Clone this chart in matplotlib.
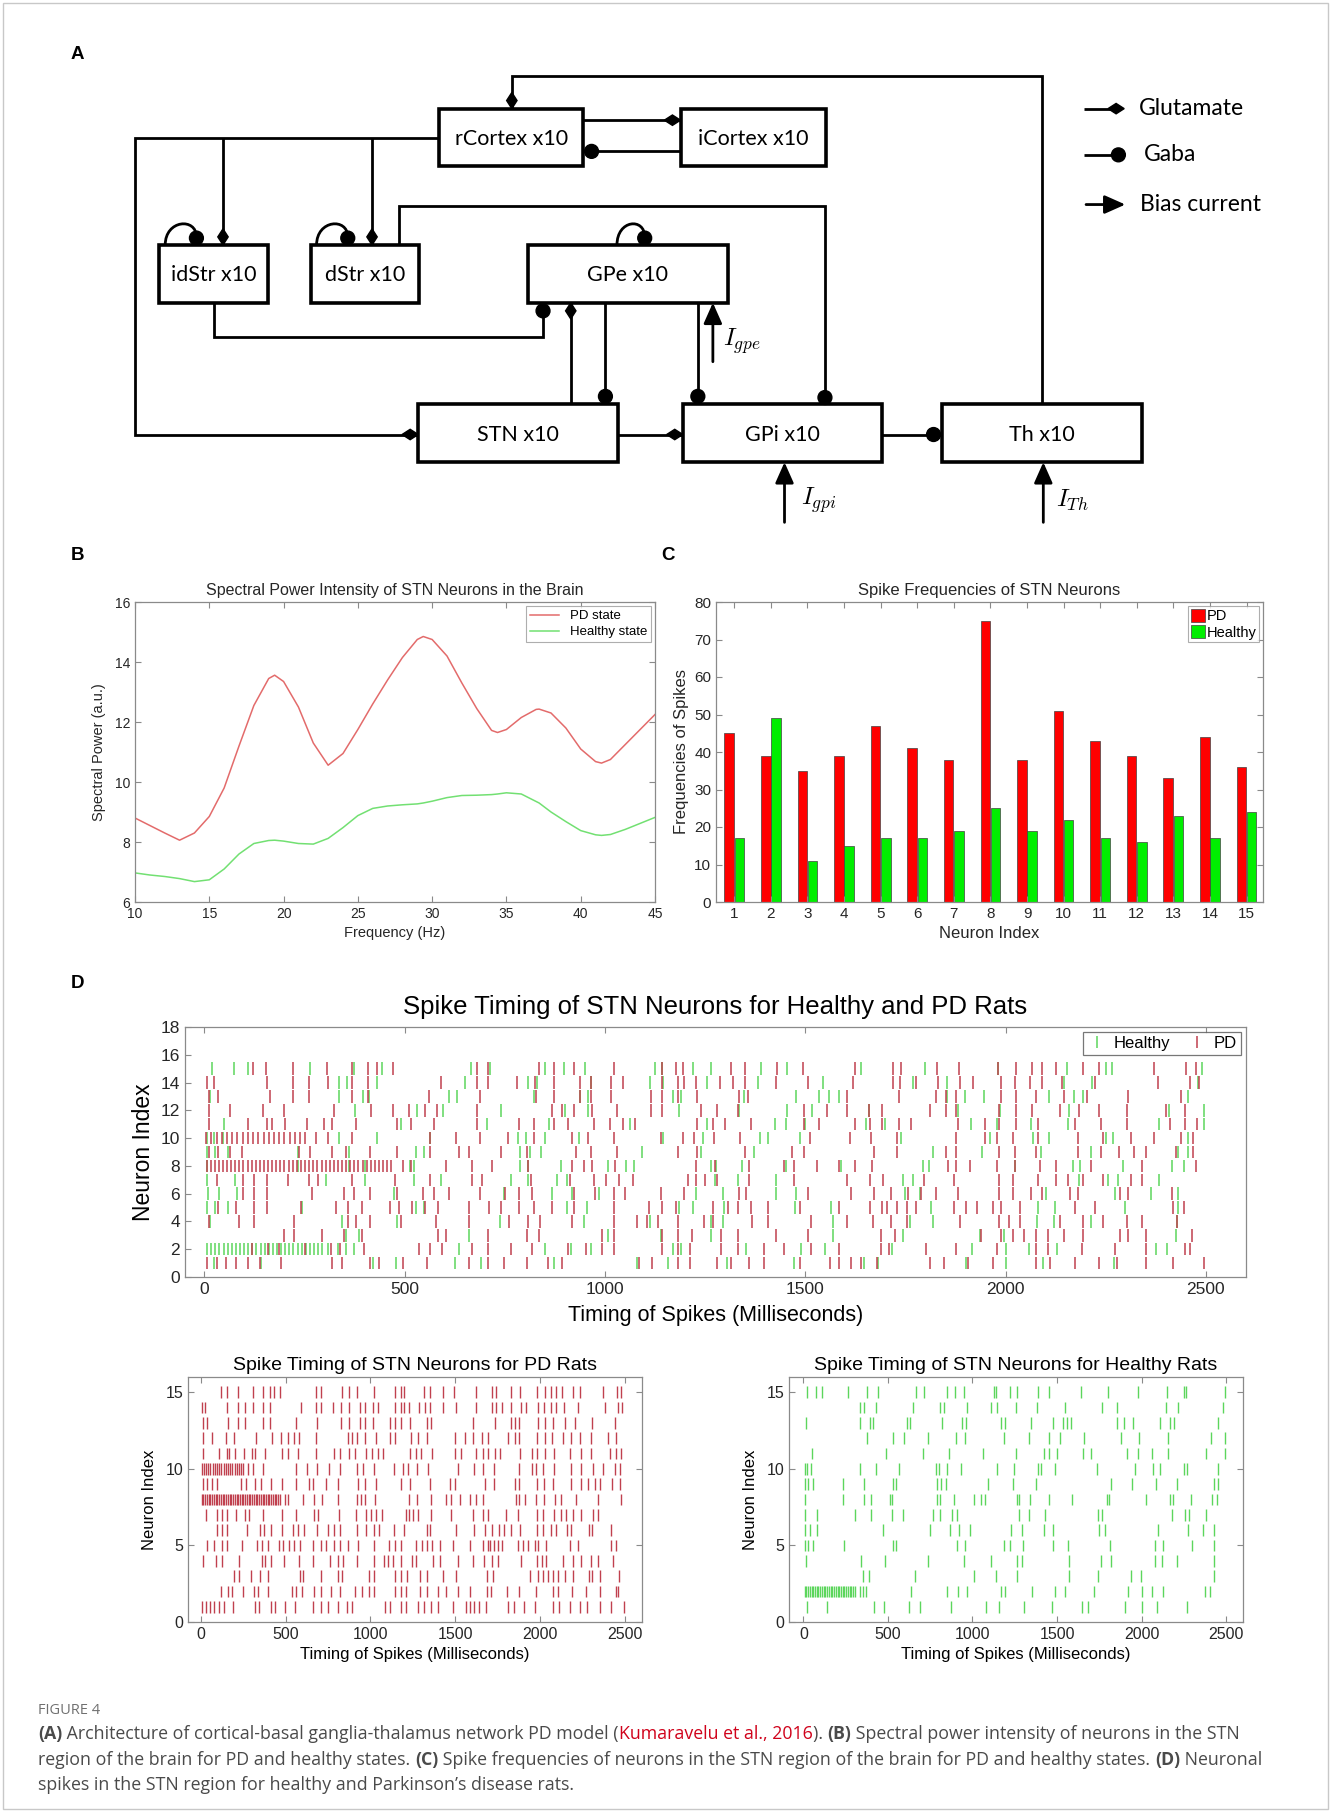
import matplotlib
matplotlib.use('Agg')
import matplotlib.pyplot as plt
from matplotlib.patches import Rectangle, Circle, Polygon, PathPatch
from matplotlib.path import Path
from matplotlib.lines import Line2D

plt.rcParams['font.family'] = ['Liberation Sans', 'DejaVu Sans']
plt.rcParams['mathtext.fontset'] = 'cm'

# ---------------- data ----------------
# B: spectral power
b_freq = [10, 11, 12, 13, 14, 15, 16, 17, 18, 19, 19.4, 20, 21, 22, 23, 24, 25, 26, 27, 28,
          29, 29.4, 30, 31, 32, 33, 34, 34.4, 35, 36, 37, 37.2, 38, 39, 40, 41, 41.4, 42, 43, 44, 45]
b_pd = [8.8, 8.55, 8.3, 8.06, 8.3, 8.85, 9.8, 11.2, 12.55, 13.45, 13.56, 13.35, 12.5, 11.3, 10.56,
        10.95, 11.75, 12.6, 13.4, 14.15, 14.75, 14.85, 14.75, 14.2, 13.3, 12.45, 11.72, 11.65, 11.75,
        12.15, 12.42, 12.43, 12.3, 11.8, 11.1, 10.68, 10.63, 10.75, 11.25, 11.75, 12.25]
b_healthy = [6.97, 6.9, 6.85, 6.78, 6.68, 6.74, 7.1, 7.6, 7.95, 8.05, 8.06, 8.03, 7.95, 7.93, 8.12,
             8.48, 8.88, 9.12, 9.2, 9.24, 9.27, 9.3, 9.36, 9.48, 9.55, 9.56, 9.58, 9.6, 9.64, 9.6,
             9.35, 9.3, 9.0, 8.68, 8.38, 8.24, 8.22, 8.25, 8.42, 8.62, 8.82]

# C: spike frequencies
neuron_idx = list(range(1, 16))
freq_pd = [45, 39, 35, 39, 47, 41, 38, 75, 38, 51, 43, 39, 33, 44, 36]
freq_healthy = [17, 49, 11, 15, 17, 17, 19, 25, 19, 22, 17, 16, 23, 17, 24]

# D: spike times (ms) per neuron, PD
pd_1 = [6, 31, 55, 80, 108, 139, 192, 320, 343, 414, 437, 496, 555, 662, 708, 747, 806, 859, 894, 1084, 1118,
        1182, 1212, 1280, 1314, 1359, 1398, 1486, 1561, 1584, 1613, 1639, 1678, 1812, 1847, 1906, 1969, 2076,
        2110, 2174, 2233, 2278, 2351, 2419, 2494]
pd_2 = [118, 159, 186, 251, 316, 339, 398, 535, 564, 594, 668, 708, 766, 819, 908, 953, 992, 1022, 1143, 1182,
        1212, 1290, 1333, 1398, 1447, 1515, 1584, 1688, 1710, 1802, 1877, 1978, 2076, 2106, 2190, 2272, 2351,
        2449, 2459]
pd_3 = [198, 225, 294, 349, 394, 584, 604, 708, 806, 835, 992, 1022, 1143, 1182, 1218, 1290, 1333, 1427, 1506,
        1688, 1724, 1939, 1988, 2018, 2047, 2076, 2106, 2145, 2194, 2286, 2306, 2351, 2465]
pd_4 = [12, 88, 123, 225, 359, 378, 414, 492, 578, 662, 761, 809, 839, 918, 1022, 1080, 1104, 1133, 1182, 1247,
        1270, 1368, 1408, 1515, 1604, 1668, 1714, 1753, 1886, 1984, 2008, 2037, 2135, 2194, 2243, 2302, 2341,
        2429]
pd_5 = [35, 80, 123, 157, 241, 329, 359, 394, 463, 486, 519, 551, 584, 662, 711, 741, 786, 823, 869, 924, 1022,
        1110, 1143, 1178, 1270, 1306, 1333, 1365, 1408, 1486, 1584, 1662, 1692, 1704, 1729, 1753, 1776, 1871,
        1900, 1929, 1969, 1988, 2037, 2174, 2223, 2419, 2445]
pd_6 = [98, 123, 157, 270, 349, 374, 414, 480, 545, 574, 610, 688, 751, 786, 819, 922, 976, 1022, 1051, 1139,
        1198, 1335, 1353, 1506, 1613, 1672, 1714, 1757, 1788, 1827, 1880, 1984, 2018, 2063, 2092, 2161, 2180,
        2286, 2306, 2416]
pd_7 = [31, 98, 123, 157, 208, 261, 284, 368, 476, 564, 668, 692, 815, 914, 973, 1002, 1035, 1071, 1208, 1227,
        1251, 1280, 1359, 1472, 1604, 1662, 1694, 1796, 1871, 1984, 2018, 2082, 2125, 2155, 2194, 2243, 2312,
        2341]
pd_8 = [6, 16, 26, 36, 47, 57, 67, 77, 88, 98, 108, 118, 129, 139, 149, 159, 170, 180, 190, 200, 211, 221, 231,
        241, 252, 262, 272, 282, 293, 303, 313, 323, 334, 344, 354, 364, 375, 385, 395, 405, 416, 426, 436, 446,
        457, 467, 496, 516, 604, 668, 717, 809, 918, 947, 967, 1025, 1227, 1274, 1359, 1447, 1472, 1529, 1584,
        1623, 1666, 1857, 1877, 1910, 1978, 2023, 2086, 2125, 2214, 2341, 2474]
pd_9 = [12, 35, 65, 94, 237, 265, 320, 355, 414, 480, 564, 637, 662, 741, 806, 927, 966, 1031, 1182, 1231, 1349,
        1466, 1496, 1672, 1729, 1851, 1877, 1984, 2023, 2076, 2180, 2239, 2282, 2321, 2351, 2425, 2468]
pd_10 = [5, 18, 31, 44, 57, 70, 83, 96, 109, 122, 135, 148, 161, 174, 187, 200, 213, 226, 239, 252, 280, 310,
         368, 564, 629, 688, 757, 822, 919, 958, 1023, 1141, 1194, 1223, 1272, 1337, 1513, 1611, 1664, 1730, 1877,
         1949, 1978, 2018, 2082, 2180, 2243, 2312, 2370, 2439, 2468]
pd_11 = [12, 110, 157, 169, 202, 257, 300, 320, 378, 480, 515, 574, 682, 786, 823, 874, 908, 973, 1012, 1045,
         1074, 1231, 1270, 1300, 1365, 1496, 1535, 1623, 1662, 1692, 1733, 1763, 1880, 1949, 1984, 2027, 2082,
         2174, 2239, 2302, 2410, 2449, 2478]
pd_12 = [12, 65, 147, 198, 325, 417, 472, 512, 551, 580, 682, 869, 894, 922, 967, 1031, 1114, 1143, 1241, 1280,
         1333, 1496, 1555, 1604, 1659, 1692, 1812, 1851, 1877, 1984, 2027, 2067, 2135, 2184, 2233, 2302, 2400,
         2449]
pd_13 = [12, 35, 163, 221, 261, 368, 408, 561, 688, 828, 874, 937, 966, 1016, 1114, 1143, 1182, 1231, 1335,
         1358, 1604, 1733, 1827, 1851, 1877, 1988, 2027, 2076, 2145, 2204, 2306, 2439]
pd_14 = [6, 25, 157, 221, 261, 308, 368, 408, 590, 682, 708, 780, 825, 874, 937, 966, 1016, 1045, 1143, 1182,
         1198, 1227, 1286, 1319, 1349, 1427, 1506, 1619, 1718, 1737, 1776, 1831, 1886, 1919, 1988, 2023, 2061,
         2092, 2141, 2223, 2380, 2459, 2482]
pd_15 = [122, 155, 221, 306, 368, 408, 431, 470, 682, 707, 835, 873, 923, 1022, 1143, 1178, 1196, 1315, 1349,
         1430, 1495, 1623, 1718, 1740, 1830, 1883, 1982, 2026, 2066, 2092, 2126, 2193, 2232, 2370, 2450, 2475]

# D: spike times (ms) per neuron, healthy
hl_1 = [24, 141, 420, 478, 627, 690, 873, 1079, 1157, 1304, 1471, 1647, 1682, 1902, 2000, 2094, 2271]
hl_2 = [8, 18, 28, 38, 49, 59, 69, 79, 89, 100, 110, 120, 130, 141, 151, 161, 171, 181, 192, 202, 212, 222, 233,
        243, 253, 263, 273, 284, 294, 308, 333, 353, 373, 635, 851, 916, 965, 1171, 1190, 1353, 1490, 1549, 1716,
        1917, 2000, 2059, 2128, 2376, 2402]
hl_3 = [353, 386, 661, 1008, 1141, 1265, 1569, 1745, 1937, 1996, 2426]
hl_4 = [14, 343, 480, 739, 949, 1112, 1265, 1294, 1569, 1761, 1818, 2079, 2122, 2212, 2427]
hl_5 = [8, 27, 59, 243, 529, 549, 906, 955, 1184, 1220, 1298, 1475, 1565, 1814, 2082, 2124, 2298, 2431]
hl_6 = [10, 37, 81, 473, 747, 868, 919, 984, 1228, 1294, 1426, 1477, 1749, 1786, 2100, 2272, 2363, 2430]
hl_7 = [8, 78, 304, 400, 523, 592, 765, 808, 880, 906, 1274, 1333, 1427, 1745, 1769, 2182, 2255, 2280, 2382]
hl_8 = [8, 235, 361, 400, 514, 523, 788, 808, 890, 1008, 1053, 1073, 1265, 1278, 1343, 1451, 1588, 1794, 1808,
        2024, 2167, 2186, 2294, 2416, 2445]
hl_9 = [8, 27, 59, 235, 361, 529, 549, 788, 812, 841, 1092, 1239, 1373, 1818, 1941, 2088, 2212, 2431, 2455]
hl_10 = [8, 24, 47, 337, 431, 563, 784, 802, 851, 935, 1145, 1245, 1388, 1408, 1486, 1739, 1961, 2069, 2108,
         2251, 2269, 2455]
hl_11 = [49, 490, 706, 860, 1062, 1256, 1425, 1453, 1500, 1652, 1700, 1914, 1978, 2063, 2157, 2382, 2495]
hl_12 = [376, 530, 595, 740, 900, 957, 1185, 1335, 1455, 1517, 1660, 1880, 1986, 2159, 2408, 2495]
hl_13 = [14, 337, 396, 412, 612, 631, 822, 939, 959, 1171, 1190, 1347, 1476, 1535, 1559, 1584, 1853, 1898, 1947,
         2108, 2171, 2192, 2455]
hl_14 = [337, 357, 431, 651, 808, 831, 965, 1112, 1145, 1255, 1382, 1545, 1769, 1853, 2147, 2216, 2480]
hl_15 = [20, 75, 108, 263, 374, 444, 665, 712, 851, 897, 950, 1126, 1142, 1220, 1266, 1389, 1454, 1640, 1800,
         1980, 2153, 2250, 2265, 2491]

pd_trains = [pd_1, pd_2, pd_3, pd_4, pd_5, pd_6, pd_7, pd_8, pd_9, pd_10, pd_11, pd_12, pd_13, pd_14, pd_15]
hl_trains = [hl_1, hl_2, hl_3, hl_4, hl_5, hl_6, hl_7, hl_8, hl_9, hl_10, hl_11, hl_12, hl_13, hl_14, hl_15]

# ---------------- figure ----------------
W, H = 1331, 1812
fig = plt.figure(figsize=(W / 100, H / 100), dpi=100)

# overlay in "displayed" units (1152 x 1568)
ov = fig.add_axes([0, 0, 1, 1], zorder=0)
ov.set_xlim(0, 1152)
ov.set_ylim(1568, 0)
ov.axis('off')

ov.add_patch(Rectangle((3, 3), 1146, 1562, fill=False, ec='#c8c8c8', lw=1))

for lab, (x, y) in {'A': (67, 47), 'B': (67, 481), 'C': (578, 481), 'D': (67, 851)}.items():
    ov.text(x, y, lab, fontsize=13.5, fontweight='bold', ha='center', va='center')

# ---- panel A: network diagram ----
boxes = {
    'rCortex x10': (380, 94, 505, 144),
    'iCortex x10': (589, 94, 715, 144),
    'idStr x10': (138, 212, 232, 262),
    'dStr x10': (269, 212, 363, 262),
    'GPe x10': (457, 212, 630, 262),
    'STN x10': (362, 350, 535, 400),
    'GPi x10': (591, 350, 763, 400),
    'Th x10': (815, 350, 988, 400),
}
for lab, (x0, y0, x1, y1) in boxes.items():
    ov.add_patch(Rectangle((x0, y0), x1 - x0, y1 - y0, fill=False, lw=2.6, ec='k', zorder=3))
    ov.text((x0 + x1) / 2, (y0 + y1) / 2 + 1, lab, ha='center', va='center', fontsize=15.5, family='Lato')


def seg(*pts):
    xs = [p[0] for p in pts]
    ys = [p[1] for p in pts]
    ov.plot(xs, ys, color='k', lw=2, solid_joinstyle='miter', solid_capstyle='butt', zorder=2)


def diamond(x, y, vertical=True, l=7, w=4.5):
    if vertical:
        pts = [(x, y - l), (x + w, y), (x, y + l), (x - w, y)]
    else:
        pts = [(x - l, y), (x, y - w), (x + l, y), (x, y + w)]
    ov.add_patch(Polygon(pts, closed=True, fc='k', ec='k', zorder=4))


def dot(x, y, r=6):
    ov.add_patch(Circle((x, y), r, fc='k', ec='k', zorder=4))


def arrow(x0, y0, x1, y1):
    ov.annotate('', xy=(x1, y1), xytext=(x0, y0),
                arrowprops=dict(arrowstyle='-|>,head_length=0.9,head_width=0.4', color='k', lw=2,
                                shrinkA=0, shrinkB=0, mutation_scale=14))


def loop(x0, x1, ytop):
    p = Path([(x0, ytop), (x0, ytop - 22), (x1, ytop - 24), (x1, ytop - 7)],
             [Path.MOVETO, Path.CURVE4, Path.CURVE4, Path.CURVE4])
    ov.add_patch(PathPatch(p, fill=False, lw=2, ec='k', zorder=2))


# rCortex <-> Th feedback
seg((443, 94), (443, 66), (902, 66), (902, 350))
diamond(443, 87)
# rCortex <-> iCortex
seg((505, 104), (589, 104))
diamond(582, 104, vertical=False)
seg((505, 131), (589, 131))
dot(512, 131)
# cortex -> striatum / STN
seg((380, 119), (117, 119), (117, 376), (362, 376))
diamond(355, 376, vertical=False)
seg((193, 119), (193, 212))
diamond(193, 205)
seg((322, 119), (322, 212))
diamond(322, 205)
# self loops
loop(143, 170, 212)
dot(170, 206)
loop(274, 301, 212)
dot(301, 206)
loop(534, 558, 212)
dot(558, 206)
# dStr -> GPi
seg((345, 212), (345, 178), (714, 178), (714, 350))
dot(714, 344)
# idStr -> GPe
seg((185, 262), (185, 292), (470, 292), (470, 262))
dot(470, 269)
# STN <-> GPe
seg((494, 350), (494, 262))
diamond(494, 269)
seg((524, 262), (524, 350))
dot(524, 343)
# GPe -> GPi
seg((604, 262), (604, 350))
dot(604, 343)
# STN -> GPi -> Th
seg((535, 376), (591, 376))
diamond(584, 376, vertical=False)
seg((763, 376), (815, 376))
dot(808, 376)
# bias currents
arrow(617, 313, 617, 262)
ov.text(626, 295, r'$I_{gpe}$', fontsize=18, va='center')
arrow(679, 452, 679, 400)
ov.text(693, 433, r'$I_{gpi}$', fontsize=18, va='center')
arrow(903, 452, 903, 400)
ov.text(914, 433, r'$I_{Th}$', fontsize=18, va='center')
# legend of diagram
seg((938, 94), (962, 94))
diamond(966, 94, vertical=False)
ov.text(986, 94, 'Glutamate', fontsize=16.5, family='Lato', va='center')
seg((938, 134), (962, 134))
dot(968, 134)
ov.text(990, 134, 'Gaba', fontsize=16.5, family='Lato', va='center')
arrow(940, 177, 974, 177)
ov.text(987, 177, 'Bias current', fontsize=16.5, family='Lato', va='center')


# ---------------- plotting panels ----------------
def ax_at(l, t, r, b):
    return fig.add_axes([l / W, 1 - b / H, (r - l) / W, (b - t) / H], zorder=2)


def matlab_style(ax, size):
    for s in ax.spines.values():
        s.set_color('#8a8a8a')
        s.set_linewidth(0.9)
    ax.tick_params(direction='in', top=True, right=True, color='#8a8a8a', labelcolor='#262626',
                   length=4, labelsize=size)


# B
axb = ax_at(135, 602, 655, 902)
axb.plot(b_freq, b_pd, color='#e36b6b', lw=1.1, label='PD state')
axb.plot(b_freq, b_healthy, color='#72e072', lw=1.1, label='Healthy state')
axb.set_xlim(10, 45)
axb.set_ylim(6, 16)
axb.set_yticks([6, 8, 10, 12, 14, 16])
axb.set_xticks([10, 15, 20, 25, 30, 35, 40, 45])
matlab_style(axb, 10)
axb.set_title('Spectral Power Intensity of STN Neurons in the Brain', fontsize=11.5, color='#262626', pad=5)
axb.set_xlabel('Frequency (Hz)', fontsize=10.5, color='#262626', labelpad=4)
axb.set_ylabel('Spectral Power (a.u.)', fontsize=10.5, color='#262626', labelpad=6)
lg = axb.legend(loc='upper right', fontsize=9.5, frameon=True, fancybox=False, borderpad=0.3,
                handlelength=2.2, labelspacing=0.3, borderaxespad=0.3)
lg.get_frame().set_edgecolor('#9a9a9a')
lg.get_frame().set_linewidth(0.8)

# C
axc = ax_at(716, 602, 1263, 902)
xc = list(range(len(neuron_idx)))
axc.bar([neuron_idx[i] - 0.14 for i in xc], freq_pd, 0.26, color='#ff0000', ec='#404040', lw=0.5, label='PD')
axc.bar([neuron_idx[i] + 0.14 for i in xc], freq_healthy, 0.26, color='#00ee00', ec='#404040', lw=0.5,
        label='Healthy')
axc.set_xlim(0.5, 15.45)
axc.set_ylim(0, 80)
axc.set_xticks(neuron_idx)
axc.set_yticks(range(0, 81, 10))
matlab_style(axc, 11)
axc.set_title('Spike Frequencies of STN Neurons', fontsize=12, color='#262626', pad=5)
axc.set_xlabel('Neuron Index', fontsize=12, color='#262626', labelpad=4)
axc.set_ylabel('Frequencies of Spikes', fontsize=12, color='#262626', labelpad=4)
lg = axc.legend(loc='upper right', fontsize=10.5, frameon=True, fancybox=False, borderpad=0.15,
                handlelength=1.0, handleheight=1.0, handletextpad=0.1, labelspacing=0.15, borderaxespad=0.3)
lg.get_frame().set_edgecolor('#9a9a9a')
lg.get_frame().set_linewidth(0.8)

hl_color = '#5cd65c'
pd_color = '#c0404e'

# D top: combined
axd = ax_at(185, 1027, 1246, 1277)
for i, tr in enumerate(hl_trains):
    axd.vlines(tr, i + 1 - 0.45, i + 1 + 0.45, color=hl_color, lw=1.1)
for i, tr in enumerate(pd_trains):
    axd.vlines(tr, i + 1 - 0.45, i + 1 + 0.45, color=pd_color, lw=1.1)
axd.set_xlim(-48, 2600)
axd.set_ylim(0, 18)
axd.set_yticks(range(0, 19, 2))
axd.set_xticks(range(0, 2501, 500))
matlab_style(axd, 12.5)
axd.tick_params(right=False)
axd.set_title('Spike Timing of STN Neurons for Healthy and PD Rats', fontsize=18.5, pad=9)
axd.set_xlabel('Timing of Spikes (Milliseconds)', fontsize=15.5, labelpad=6)
axd.set_ylabel('Neuron Index', fontsize=16.5, labelpad=4)
handles = [Line2D([], [], color=hl_color, marker='|', ls='none', ms=9, mew=1.1),
           Line2D([], [], color=pd_color, marker='|', ls='none', ms=9, mew=1.1)]
lg = axd.legend(handles, ['Healthy', 'PD'], loc='upper right', ncol=2, fontsize=12, frameon=True,
                fancybox=False, borderpad=0.25, handlelength=1.2, handletextpad=0.4, columnspacing=1.0,
                borderaxespad=0.3)
lg.get_frame().set_edgecolor('#555555')
lg.get_frame().set_linewidth(0.9)

# D bottom left: PD
axp = ax_at(188, 1377, 642, 1622)
for i, tr in enumerate(pd_trains):
    axp.vlines(tr, i + 1 - 0.38, i + 1 + 0.38, color=pd_color, lw=1.0)
axp.set_xlim(-75, 2600)
axp.set_ylim(0, 16)
axp.set_yticks([0, 5, 10, 15])
axp.set_xticks(range(0, 2501, 500))
matlab_style(axp, 11.5)
axp.set_title('Spike Timing of STN Neurons for PD Rats', fontsize=14, pad=5)
axp.set_xlabel('Timing of Spikes (Milliseconds)', fontsize=12, labelpad=4)
axp.set_ylabel('Neuron Index', fontsize=12, labelpad=6)

# D bottom right: healthy
axh = ax_at(789, 1377, 1243, 1622)
for i, tr in enumerate(hl_trains):
    axh.vlines(tr, i + 1 - 0.38, i + 1 + 0.38, color=hl_color, lw=1.0)
axh.set_xlim(-85, 2600)
axh.set_ylim(0, 16)
axh.set_yticks([0, 5, 10, 15])
axh.set_xticks(range(0, 2501, 500))
matlab_style(axh, 11.5)
axh.set_title('Spike Timing of STN Neurons for Healthy Rats', fontsize=14, pad=5)
axh.set_xlabel('Timing of Spikes (Milliseconds)', fontsize=12, labelpad=4)
axh.set_ylabel('Neuron Index', fontsize=12, labelpad=6)

# ---------------- caption ----------------
renderer = fig.canvas.get_renderer()
cap_size = 12.8
gray = '#4a4a4a'
red = '#d0021b'


def rich_line(x, y, parts):
    for txt, color, weight in parts:
        t = ov.text(x, y, txt, color=color, fontweight=weight, fontsize=cap_size, family='Open Sans',
                    va='baseline', ha='left')
        bb = t.get_window_extent(renderer)
        x += bb.width * 1152 / W


ov.text(33, 1483, 'FIGURE 4', fontsize=10.5, color='#707070', family='Open Sans', va='baseline')
rich_line(33, 1505, [('(A)', gray, 'bold'),
                     (' Architecture of cortical-basal ganglia-thalamus network PD model (', gray, 'normal'),
                     ('Kumaravelu et al., 2016', red, 'normal'),
                     ('). ', gray, 'normal'),
                     ('(B)', gray, 'bold'),
                     (' Spectral power intensity of neurons in the STN', gray, 'normal')])
rich_line(33, 1527, [('region of the brain for PD and healthy states. ', gray, 'normal'),
                     ('(C)', gray, 'bold'),
                     (' Spike frequencies of neurons in the STN region of the brain for PD and healthy states. ',
                      gray, 'normal'),
                     ('(D)', gray, 'bold'),
                     (' Neuronal', gray, 'normal')])
rich_line(33, 1549, [('spikes in the STN region for healthy and Parkinson\u2019s disease rats.', gray, 'normal')])

fig.savefig('out.png', dpi=100)
